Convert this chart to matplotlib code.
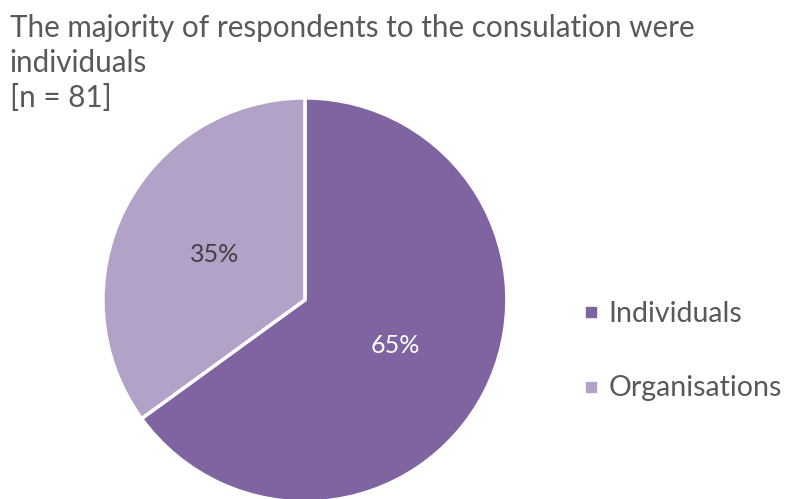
import matplotlib.pyplot as plt
from matplotlib.lines import Line2D

labels = ['Individuals', 'Organisations']
shares = [65, 35]
colors = ['#8064A2', '#B3A2C7']
title = 'The majority of respondents to the consulation were\nindividuals\n[n = 81]'

plt.rcParams['font.family'] = ['Lato', 'DejaVu Sans']

fig = plt.figure(figsize=(7.92, 4.99), dpi=100)
ax = fig.add_axes([0.130, -0.006, 0.510, 0.810])

wedges, texts, autotexts = ax.pie(
    shares, colors=colors, startangle=90, counterclock=False,
    autopct='%1.0f%%', pctdistance=0.5,
    wedgeprops=dict(edgecolor='white', linewidth=2.5),
    textprops=dict(fontsize=18))
autotexts[0].set_color('white')
autotexts[1].set_color('#404040')
ax.set_xlim(-1, 1)
ax.set_ylim(-1, 1)
ax.set_aspect('equal')

fig.text(0.012, 0.972, title, fontsize=21.3, color='#595959',
         va='top', ha='left', linespacing=1.3)

handles = [Line2D([], [], marker='s', linestyle='', markersize=7.5,
                  markerfacecolor=c, markeredgecolor=c) for c in colors]
fig.legend(handles, labels, loc='center left', bbox_to_anchor=(0.700, 0.296),
           frameon=False, fontsize=20.5, labelcolor='#595959',
           handletextpad=0.2, labelspacing=1.7, handlelength=0.8)

fig.savefig('out.png', dpi=100)
